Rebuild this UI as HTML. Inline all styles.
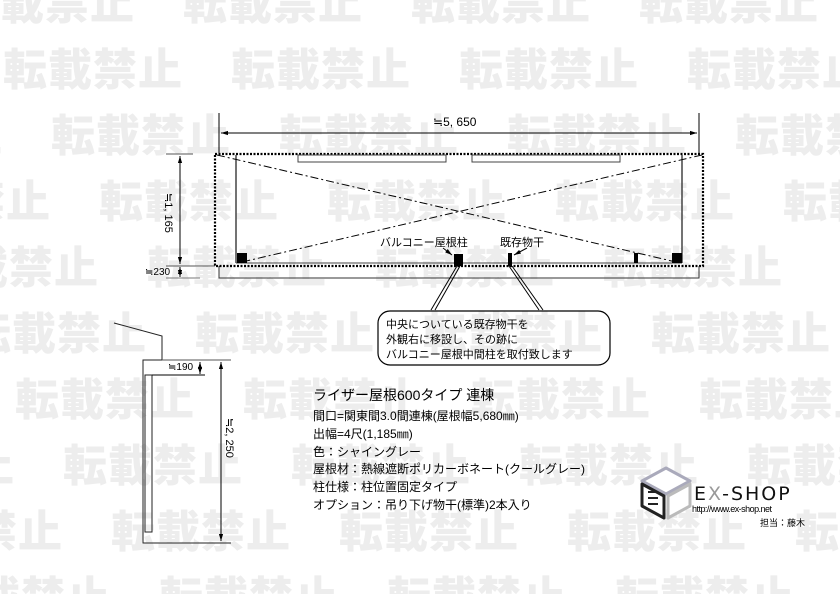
<!DOCTYPE html>
<html><head><meta charset="utf-8"><style>
html,body{margin:0;padding:0;background:#fff}
body{width:840px;height:594px;overflow:hidden;position:relative;font-family:"Liberation Sans","Noto Sans CJK JP",sans-serif}
#w{position:absolute;left:0;top:0;width:840px;height:594px;overflow:hidden}
.wm{position:absolute;font-family:"Noto Sans CJK JP",sans-serif;font-weight:900;font-size:44px;line-height:44px;color:#ededed;white-space:nowrap;letter-spacing:1px}
svg{position:absolute;left:0;top:0}
</style></head><body>
<div id="w"></div>
<script>
var h='';for(var i=0;i<10;i++){var y=50+66*(i-1)-6;var o=((3+48*(i-1))%228+228)%228-228;for(var x=o;x<800;x+=228){if(x+180>0)h+='<div class="wm" style="left:'+x+'px;top:'+y+'px">転載禁止</div>';}}document.getElementById('w').innerHTML=h;
</script>
<svg width="840" height="594" viewBox="0 0 840 594" font-family="Liberation Sans, Noto Sans CJK JP, sans-serif">
<defs><marker id="a" viewBox="0 0 10 10" refX="10" refY="5" markerWidth="7" markerHeight="7" orient="auto-start-reverse"><path d="M0,2L10,5L0,8z" fill="#000"/></marker></defs>
<g stroke="#000" fill="none" stroke-width="1">
<line x1="219" y1="113" x2="219" y2="155"/><line x1="699" y1="113" x2="699" y2="155"/>
<line x1="221" y1="133" x2="697" y2="133" marker-start="url(#a)" marker-end="url(#a)"/>
<line x1="166" y1="154" x2="193" y2="154" stroke="#555"/><line x1="166" y1="266" x2="215" y2="266" stroke="#555"/><line x1="166" y1="278" x2="200" y2="278" stroke="#777"/>
<line x1="180" y1="156" x2="180" y2="264" marker-start="url(#a)" marker-end="url(#a)"/>
<line x1="180" y1="267" x2="180" y2="277" marker-start="url(#a)" marker-end="url(#a)"/>
<rect x="215" y="154" width="488" height="112" stroke-width="2.2" stroke-dasharray="2,1.5"/>
<line x1="236" y1="155" x2="236" y2="263" stroke="#444" stroke-width="1.5"/><line x1="682" y1="155" x2="682" y2="263" stroke="#444" stroke-width="1.5"/>
<line x1="236" y1="263" x2="682" y2="263" stroke="#444"/>
<rect x="298" y="155" width="148" height="7" stroke="#444"/><rect x="472" y="155" width="148" height="7" stroke="#444"/>
<path d="M219 266V278H699V266" stroke="#333"/>
<line x1="217" y1="155" x2="676" y2="262" stroke-dasharray="8,3,2,3"/><line x1="702" y1="155" x2="242" y2="262" stroke-dasharray="8,3,2,3"/>
<line x1="457" y1="266" x2="431" y2="310"/><line x1="460" y1="266" x2="435" y2="310"/>
<line x1="509" y1="266" x2="539" y2="310"/><line x1="512" y1="266" x2="543" y2="310"/>
<line x1="443" y1="248" x2="452" y2="255" marker-end="url(#a)"/><line x1="527" y1="248" x2="514" y2="255" marker-end="url(#a)"/>
<rect x="378" y="311" width="232" height="54" rx="12" stroke-width="1.2"/>
<path d="M114 323L162 336V360H143V543H231" stroke="#222"/>
<line x1="162" y1="360" x2="231" y2="360" stroke="#555"/>
<rect x="145" y="375" width="7" height="157" stroke="#222"/>
<line x1="152" y1="375" x2="205" y2="375"/>
<line x1="200" y1="362" x2="200" y2="374" marker-start="url(#a)" marker-end="url(#a)"/>
<line x1="221" y1="362" x2="221" y2="541" marker-start="url(#a)" marker-end="url(#a)"/>
</g>
<g fill="#000">
<rect x="237" y="253" width="10" height="10"/><rect x="672" y="253" width="10" height="10"/><rect x="454" y="254" width="9" height="12"/><rect x="508" y="253" width="4" height="13"/><rect x="634" y="253" width="4" height="10"/>
</g>
<g font-size="11" fill="#000">
<text x="433" y="126" font-size="12">≒5, 650</text>
<text x="380" y="246">バルコニー屋根柱</text><text x="500" y="246">既存物干</text>
<text transform="translate(165,193) rotate(90)">≒1, 165</text>
<text x="145" y="275" font-size="10">≒230</text>
<text x="168" y="370" font-size="10">≒190</text>
<text transform="translate(226,418) rotate(90)">≒2, 250</text>
<text x="386" y="328">中央についている既存物干を</text>
<text x="386" y="343">外観右に移設し、その跡に</text>
<text x="386" y="358">バルコニー屋根中間柱を取付致します</text>
</g>
<g font-size="12" fill="#000">
<text x="313" y="400" font-size="14">ライザー屋根600タイプ  連棟</text>
<text x="313" y="420">間口=関東間3.0間連棟(屋根幅5,680㎜)</text>
<text x="313" y="438">出幅=4尺(1,185㎜)</text>
<text x="313" y="456">色：シャイングレー</text>
<text x="313" y="473">屋根材：熱線遮断ポリカーボネート(クールグレー)</text>
<text x="313" y="491">柱仕様：柱位置固定タイプ</text>
<text x="313" y="509">オプション：吊り下げ物干(標準)2本入り</text>
</g>
<g stroke-linejoin="round">
<path d="M666 468L690 481L666 494L642 481Z" fill="#fff" stroke="#aab" stroke-width="3"/>
<path d="M642 484L664 496V518L642 506Z" fill="#fff" stroke="#222" stroke-width="3"/>
<path d="M668 496L690 484V506L668 518Z" fill="#fff" stroke="#bbb" stroke-width="3"/>
<path d="M648 492h10M648 498h10M648 504h10" stroke="#222" stroke-width="2"/>
</g>
<text x="694" y="500" font-size="19" font-family="DejaVu Sans, sans-serif" letter-spacing="2" fill="#111">E<tspan fill="#999">X</tspan>-SHOP</text>
<text x="692" y="512" font-size="9" fill="#000" textLength="80">http://www.ex-shop.net</text>
<text x="760" y="526" font-size="9" fill="#000">担当：藤木</text>
</svg>
</body></html>
